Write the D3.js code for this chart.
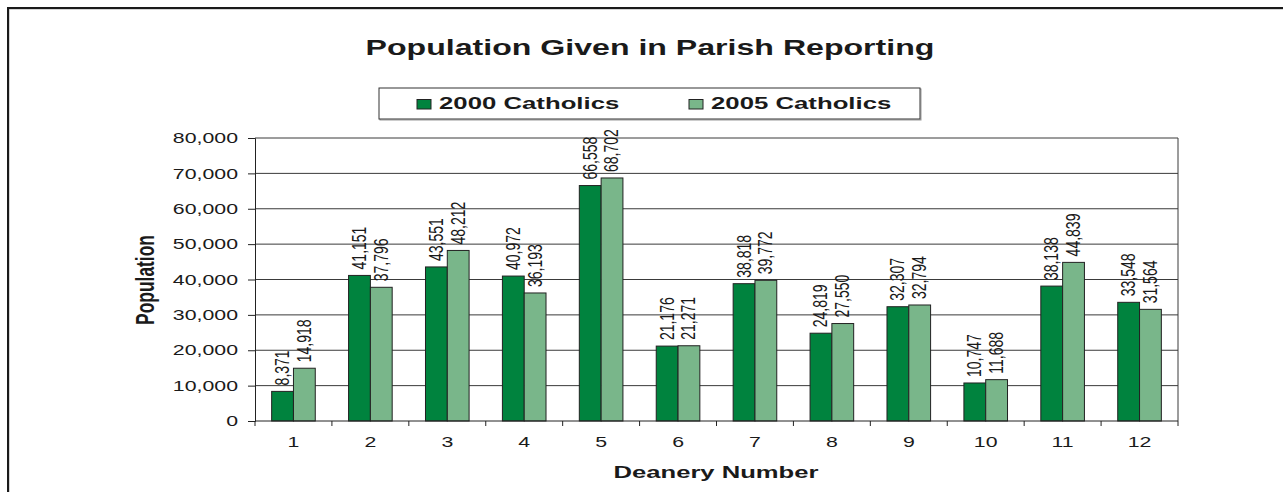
<!DOCTYPE html>
<html><head><meta charset="utf-8">
<script src="https://cdn.jsdelivr.net/npm/d3@7"></script>
<style>
html,body{margin:0;padding:0;background:#fff;}
svg text{font-family:"Liberation Sans",Arial,sans-serif;fill:#1a1a1a;}
</style></head>
<body><svg id="c" width="1283" height="492"></svg>
<script>
const categories = ["1","2","3","4","5","6","7","8","9","10","11","12"];
const series2000 = [8371,41151,43551,40972,66558,21176,38818,24819,32307,10747,38138,33548];
const series2005 = [14918,37796,48212,36193,68702,21271,39772,27550,32794,11688,44839,31564];
const seriesNames = ["2000 Catholics","2005 Catholics"];
const yTicks = [0,10000,20000,30000,40000,50000,60000,70000,80000];

const SX = 1.48; // horizontal stretch of the text in the picture
const colors = ["#00833E","#79B68A"];
const svg = d3.select("#c");

// outer frame
svg.append("rect").attr("x",9).attr("y",9).attr("width",1400).attr("height",600)
  .attr("fill","none").attr("stroke","#aaa").attr("stroke-width",1);
svg.append("rect").attr("x",8).attr("y",8).attr("width",1400).attr("height",600)
  .attr("fill","none").attr("stroke","#1a1a1a").attr("stroke-width",2);

const L=255, R=1178, T=138, B=421;
const x0 = d3.scaleBand().domain(categories).range([L,R]).paddingInner(0.433).paddingOuter(0.2165);
const x1 = d3.scaleBand().domain([0,1]).range([0,x0.bandwidth()]);
const y = d3.scaleLinear().domain([0,80000]).range([B,T]);
const step = x0.step();

// gridlines
svg.append("g").selectAll("line").data(yTicks.filter(d=>d>0)).join("line")
  .attr("x1",L).attr("x2",R).attr("y1",d=>y(d)).attr("y2",d=>y(d))
  .attr("stroke","#3a3a3a").attr("stroke-width",1);
// plot right border
svg.append("line").attr("x1",R).attr("x2",R).attr("y1",T).attr("y2",B).attr("stroke","#3a3a3a");

// y axis
const yAxis = svg.append("g").attr("transform",`translate(${L},0)`)
  .call(d3.axisLeft(y).tickValues(yTicks).tickSize(7).tickFormat(""));
yAxis.select(".domain").attr("stroke","#222");
yAxis.selectAll(".tick line").attr("stroke","#222");
svg.append("g").selectAll("text").data(yTicks).join("text")
  .attr("transform",d=>`translate(238,${y(d)}) scale(${SX},1)`)
  .attr("text-anchor","end").attr("dy","0.36em").style("font-size","14.4px")
  .text(d=>d3.format(",")(d));

// bars
const groups = svg.append("g").selectAll("g").data(categories).join("g")
  .attr("transform",d=>`translate(${x0(d)},0)`);
groups.selectAll("rect").data((d,i)=>[series2000[i],series2005[i]]).join("rect")
  .attr("x",(d,j)=>x1(j)).attr("width",x1.bandwidth())
  .attr("y",d=>y(d)).attr("height",d=>B-y(d))
  .attr("fill",(d,j)=>colors[j]).attr("stroke","#222").attr("stroke-width",1);
// value labels
groups.selectAll("text").data((d,i)=>[series2000[i],series2005[i]]).join("text")
  .attr("transform",(d,j)=>`translate(${x1(j)+x1.bandwidth()/2-1},${y(d)-6}) scale(${SX},1) rotate(-90)`)
  .attr("dy","0.36em").style("font-size","14px")
  .text(d=>d3.format(",")(d));

// x axis
const xAxis = svg.append("g").attr("transform",`translate(0,${B})`);
xAxis.append("line").attr("x1",L).attr("x2",R).attr("stroke","#222");
xAxis.selectAll("line.t").data(d3.range(categories.length+1)).join("line").attr("class","t")
  .attr("x1",i=>L+i*step).attr("x2",i=>L+i*step).attr("y1",0).attr("y2",5).attr("stroke","#222");
xAxis.selectAll("text").data(categories).join("text")
  .attr("transform",d=>`translate(${x0(d)+x0.bandwidth()/2},26) scale(${SX},1)`)
  .attr("text-anchor","middle").style("font-size","14.4px").text(d=>d);

// axis titles
svg.append("text").attr("transform",`translate(145,280) scale(${SX},1) rotate(-90)`)
  .attr("text-anchor","middle").attr("dy","0.36em")
  .style("font-size","17.4px").style("font-weight","bold").text("Population");
svg.append("text").attr("transform",`translate(716,478) scale(${SX},1)`)
  .attr("text-anchor","middle").style("font-size","17.3px").style("font-weight","bold").text("Deanery Number");

// title
svg.append("text").attr("transform",`translate(650,55) scale(${SX},1)`)
  .attr("text-anchor","middle").style("font-size","21.7px").style("font-weight","bold")
  .text("Population Given in Parish Reporting");

// legend
const lg = svg.append("g");
lg.append("rect").attr("x",380).attr("y",89).attr("width",541).attr("height",31)
  .attr("fill","none").attr("stroke","#999").attr("stroke-width",1);
lg.append("rect").attr("x",379).attr("y",88).attr("width",541).attr("height",31)
  .attr("fill","#fff").attr("stroke","#333").attr("stroke-width",1);
const legX = [417,689];
seriesNames.forEach((n,i)=>{
  lg.append("rect").attr("x",legX[i]).attr("y",99.5).attr("width",14).attr("height",9.5)
    .attr("fill",colors[i]).attr("stroke","#222");
  lg.append("text").attr("transform",`translate(${legX[i]+22},109) scale(${SX},1)`)
    .style("font-size","17.4px").style("font-weight","bold").text(n);
});
</script></body></html>
